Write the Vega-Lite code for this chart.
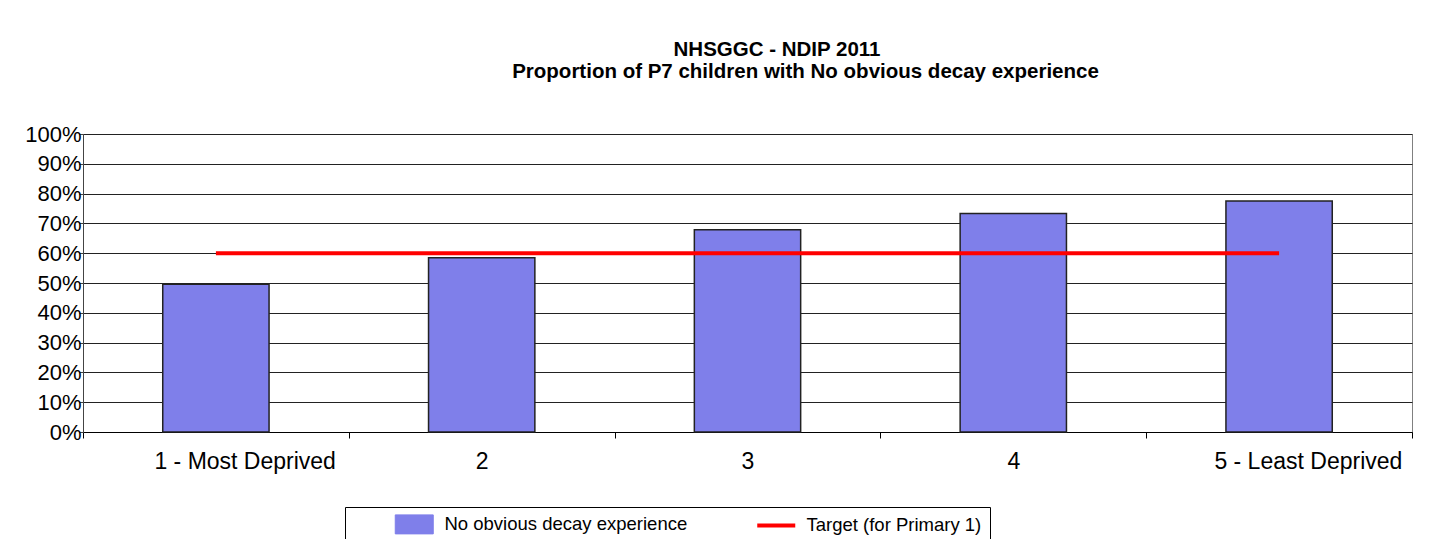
{
  "$schema": "https://vega.github.io/schema/vega-lite/v6.json",
  "width": 1329,
  "height": 298,
  "autosize": {"type": "none"},
  "padding": {"left": 83, "top": 134, "right": 23, "bottom": 107},
  "background": "white",
  "config": {
    "font": "Liberation Sans",
    "view": {"stroke": "#808080", "strokeWidth": 1},
    "axisY": {"labelOverlap": false}
  },
  "title": {
    "text": "NHSGGC - NDIP 2011\u00a0\u00a0\u00a0\u00a0\u00a0\u00a0\u00a0\u00a0\u00a0\u00a0\u200b",
    "subtitle": "Proportion of P7 children with No obvious decay experience",
    "anchor": "middle",
    "frame": "group",
    "dx": 58,
    "font": "Liberation Sans",
    "subtitleFont": "Liberation Sans",
    "fontSize": 20.5,
    "subtitleFontSize": 20.5,
    "fontWeight": "bold",
    "subtitleFontWeight": "bold",
    "color": "#000000",
    "subtitleColor": "#000000",
    "subtitlePadding": 1,
    "offset": 41
  },
  "data": {
    "values": [
      {"quintile": "1 - Most Deprived", "value": 0.496, "target": 0.6},
      {"quintile": "2", "value": 0.585, "target": 0.6},
      {"quintile": "3", "value": 0.679, "target": 0.6},
      {"quintile": "4", "value": 0.733, "target": 0.6},
      {"quintile": "5 - Least Deprived", "value": 0.775, "target": 0.6}
    ]
  },
  "encoding": {
    "x": {
      "field": "quintile",
      "type": "nominal",
      "sort": null,
      "scale": {"paddingInner": 0, "paddingOuter": 0},
      "axis": {
        "title": null,
        "labelAngle": 0,
        "labelFontSize": 23,
        "labelColor": "#000000",
        "labelFont": "Liberation Sans",
        "labelLimit": 400,
        "labelExpr": "length(datum.label) > 3 ? '\u200b\u00a0\u00a0\u00a0\u00a0\u00a0\u00a0\u00a0\u00a0\u00a0' + datum.label : datum.label",
        "tickBand": "extent",
        "tickSize": 6,
        "tickColor": "#000000",
        "domainColor": "#000000",
        "labelPadding": 12,
        "grid": false
      }
    }
  },
  "layer": [
    {
      "mark": {"type": "bar", "width": {"band": 0.4}, "stroke": "#222222", "strokeWidth": 1.5},
      "encoding": {
        "y": {
          "field": "value",
          "type": "quantitative",
          "scale": {"domain": [0, 1]},
          "axis": {
            "title": null,
            "format": ".0%",
            "values": [0, 0.1, 0.2, 0.3, 0.4, 0.5, 0.6, 0.7, 0.8, 0.9, 1],
            "labelOverlap": false,
            "labelFontSize": 22,
            "labelColor": "#000000",
            "labelFont": "Liberation Sans",
            "labelPadding": -2,
            "tickSize": 4,
            "tickColor": "#444444",
            "domainColor": "#444444",
            "grid": true,
            "gridColor": "#222222",
            "gridWidth": 1
          }
        },
        "color": {
          "datum": "No obvious decay experience",
          "type": "nominal",
          "scale": {
            "domain": ["No obvious decay experience", "Target (for Primary 1)"],
            "range": ["#7f7fea", "#ff0000"]
          },
          "legend": {
            "title": null,
            "orient": "none",
            "legendX": 262,
            "legendY": 373,
            "direction": "horizontal",
            "columnPadding": 27,
            "symbolSize": 1444,
            "symbolOffset": 52,
            "labelFontSize": 18.5,
            "labelFont": "Liberation Sans",
            "labelColor": "#000000",
            "labelLimit": 400,
            "labelOffset": 21,
            "strokeColor": "#000000",
            "fillColor": "#ffffff",
            "padding": 8,
            "encode": {
              "symbols": {
                "update": {
                  "shape": {"signal": "datum.value === 'Target (for Primary 1)' ? 'M-1,0H1' : 'M-1,-0.5H1V0.5H-1Z'"},
                  "fill": {"signal": "datum.value === 'Target (for Primary 1)' ? 'transparent' : '#9999ff'"},
                  "stroke": {"signal": "datum.value === 'Target (for Primary 1)' ? '#ff0000' : '#222222'"},
                  "strokeWidth": {"signal": "datum.value === 'Target (for Primary 1)' ? 4 : 1"},
                  "size": {"value": 1444},
                  "opacity": {"value": 1}
                }
              }
            }
          }
        }
      }
    },
    {
      "mark": {"type": "line", "strokeWidth": 4},
      "encoding": {
        "y": {
          "field": "target",
          "type": "quantitative",
          "axis": {
            "title": null,
            "format": ".0%",
            "values": [0, 0.1, 0.2, 0.3, 0.4, 0.5, 0.6, 0.7, 0.8, 0.9, 1],
            "labelOverlap": false,
            "labelFontSize": 22,
            "labelColor": "#000000",
            "labelFont": "Liberation Sans",
            "labelPadding": -2,
            "tickSize": 4,
            "tickColor": "#444444",
            "domainColor": "#444444",
            "grid": true,
            "gridColor": "#222222",
            "gridWidth": 1
          }
        },
        "color": {
          "datum": "Target (for Primary 1)",
          "type": "nominal",
          "legend": {
            "title": null,
            "orient": "none",
            "legendX": 262,
            "legendY": 373,
            "direction": "horizontal",
            "columnPadding": 27,
            "symbolSize": 1444,
            "symbolOffset": 52,
            "labelFontSize": 18.5,
            "labelFont": "Liberation Sans",
            "labelColor": "#000000",
            "labelLimit": 400,
            "labelOffset": 21,
            "strokeColor": "#000000",
            "fillColor": "#ffffff",
            "padding": 8,
            "encode": {
              "symbols": {
                "update": {
                  "shape": {"signal": "datum.value === 'Target (for Primary 1)' ? 'M-1,0H1' : 'M-1,-0.5H1V0.5H-1Z'"},
                  "fill": {"signal": "datum.value === 'Target (for Primary 1)' ? 'transparent' : '#9999ff'"},
                  "stroke": {"signal": "datum.value === 'Target (for Primary 1)' ? '#ff0000' : '#222222'"},
                  "strokeWidth": {"signal": "datum.value === 'Target (for Primary 1)' ? 4 : 1"},
                  "size": {"value": 1444},
                  "opacity": {"value": 1}
                }
              }
            }
          }
        }
      }
    }
  ]
}
